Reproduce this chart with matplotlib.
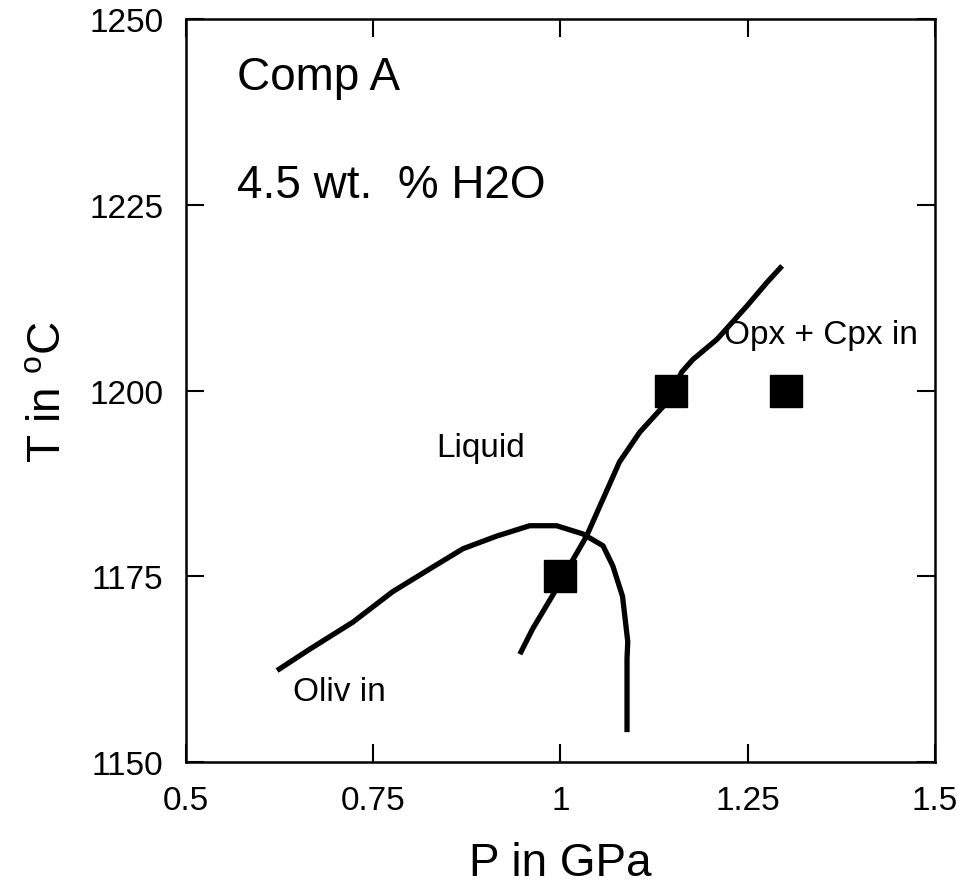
import numpy as np
import matplotlib
matplotlib.use("Agg")
import matplotlib.pyplot as plt

plt.rcParams["font.family"] = ["Liberation Sans", "DejaVu Sans"]
plt.rcParams["mathtext.fontset"] = "custom"
plt.rcParams["mathtext.rm"] = "Liberation Sans"

# olivine-in boundary (P in GPa, T in C)
oliv_p = [0.622, 0.666, 0.723, 0.776, 0.826, 0.870, 0.915, 0.959, 0.995, 1.030,
          1.057, 1.070, 1.083, 1.090, 1.089, 1.089, 1.089]
oliv_t = [1162.3, 1165.2, 1168.8, 1172.9, 1176.0, 1178.7, 1180.4, 1181.8, 1181.8,
          1180.7, 1179.1, 1176.4, 1172.3, 1166.2, 1163.9, 1158.5, 1154.0]

# opx + cpx-in boundary
px_p = [0.946, 0.963, 0.989, 1.015, 1.035, 1.053, 1.079, 1.106, 1.143, 1.162,
        1.177, 1.209, 1.249, 1.276, 1.296]
px_t = [1164.5, 1167.9, 1172.3, 1176.9, 1180.4, 1184.5, 1190.4, 1194.4, 1198.5,
        1202.5, 1204.2, 1206.9, 1211.4, 1214.6, 1216.8]

# experiments
exp_p = [1.0, 1.148, 1.301]
exp_t = [1175, 1200, 1200]

xticks = [0.5, 0.75, 1.0, 1.25, 1.5]
xticklabels = ["0.5", "0.75", "1", "1.25", "1.5"]
yticks = [1150, 1175, 1200, 1225, 1250]

fig = plt.figure(figsize=(9.57, 8.87), dpi=100)
ax = fig.add_axes([0.194, 0.140, 0.783, 0.837])

ax.plot(oliv_p, oliv_t, color="black", lw=3.8, solid_capstyle="butt",
        solid_joinstyle="round")
ax.plot(px_p, px_t, color="black", lw=3.8, solid_capstyle="butt",
        solid_joinstyle="round")
ax.plot(exp_p, exp_t, ls="none", marker="s", ms=23, color="black")

ax.set_xlim(0.5, 1.5)
ax.set_ylim(1150, 1250)
ax.set_xticks(xticks)
ax.set_xticklabels(xticklabels)
ax.set_yticks(yticks)
ax.tick_params(direction="in", top=True, right=True, length=13, width=1.5,
               labelsize=24)
ax.tick_params(axis="x", pad=17)
ax.tick_params(axis="y", pad=16)
for s in ax.spines.values():
    s.set_linewidth(1.8)

ax.set_xlabel("P in GPa", fontsize=33, labelpad=18)
ax.set_ylabel("T in $^{\\rm o}$C", fontsize=33, labelpad=14)

ax.text(0.569, 1242.3, "Comp A", fontsize=33, ha="left", va="center")
ax.text(0.569, 1227.7, "4.5 wt.  % H2O", fontsize=33, ha="left", va="center")
ax.text(0.835, 1192.3, "Liquid", fontsize=24, ha="left", va="center")
ax.text(1.218, 1207.5, "Opx + Cpx in", fontsize=24, ha="left", va="center")
ax.text(0.643, 1159.5, "Oliv in", fontsize=24, ha="left", va="center")

fig.savefig("out.png", dpi=100)
